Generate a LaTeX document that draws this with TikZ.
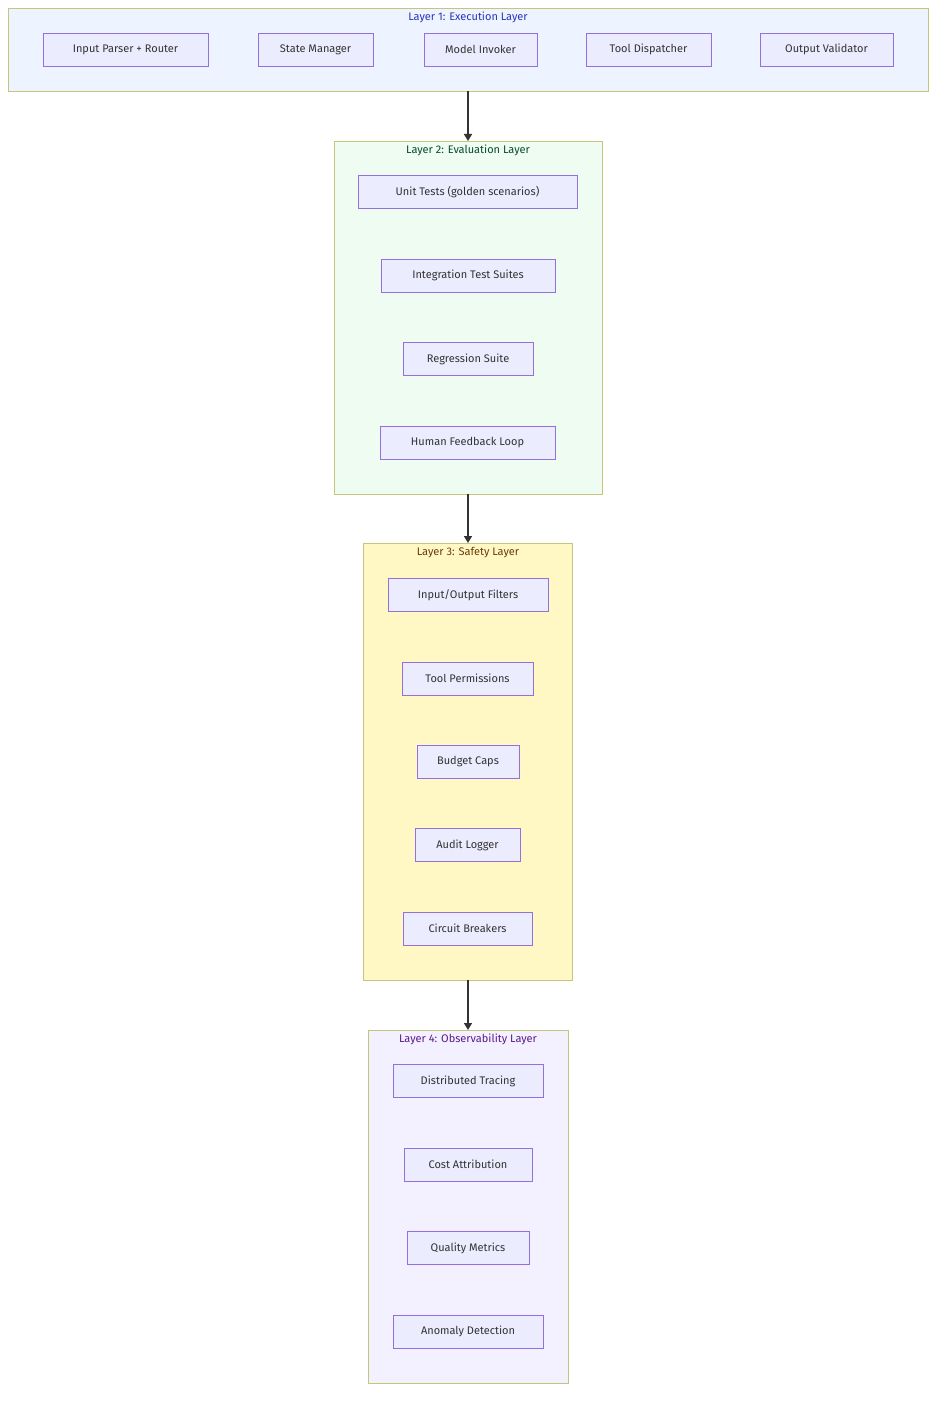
\documentclass[tikz,border=0pt]{standalone}
\usepackage{fontspec}
\setmainfont{Fira Sans}
\usetikzlibrary{arrows.meta}
\definecolor{nfill}{HTML}{ECECFF}
\definecolor{nline}{HTML}{9370DB}
\definecolor{gline}{HTML}{C6C67A}
\definecolor{f1}{HTML}{EEF4FF}
\definecolor{f2}{HTML}{EEFCF2}
\definecolor{f3}{HTML}{FFF8C4}
\definecolor{f4}{HTML}{F3F1FF}
\definecolor{t1}{HTML}{2536B8}
\definecolor{t2}{HTML}{0B4A2A}
\definecolor{t3}{HTML}{6B3A0C}
\definecolor{t4}{HTML}{5A1A8C}
\definecolor{ntext}{HTML}{333333}
\begin{document}
\begin{tikzpicture}[x=1pt,y=-1pt,
  nd/.style={draw=nline,fill=nfill,line width=0.8pt,minimum height=33pt,inner sep=0pt,text=ntext,font=\fontsize{11}{13}\selectfont},
  grp/.style={draw=gline,line width=0.8pt},
  ttl/.style={font=\fontsize{11}{13}\selectfont,anchor=center},
  arr/.style={draw=black!80,line width=1.6pt,-{Triangle[length=7pt,width=8pt]}}]
\useasboundingbox (0,0) rectangle (944,1402);
% groups
\draw[grp,fill=f1] (8,8) rectangle (928,91);
\draw[grp,fill=f2] (334,141) rectangle (602,494);
\draw[grp,fill=f3] (363,543) rectangle (572,980);
\draw[grp,fill=f4] (368,1030) rectangle (568,1383);
\node[ttl,text=t1] (g1) at (468,17) {Layer 1: Execution Layer};
\node[ttl,text=t2] (g2) at (468,150) {Layer 2: Evaluation Layer};
\node[ttl,text=t3] (g3) at (468,553) {Layer 3: Safety Layer};
\node[ttl,text=t4] (g4) at (468,1039) {Layer 4: Observability Layer};
\coordinate (b1) at (468,91); \coordinate (a2) at (468,141);
\coordinate (b2) at (468,494); \coordinate (a3) at (468,543);
\coordinate (b3) at (468,980); \coordinate (a4) at (468,1030);
% layer 1
\node[nd,minimum width=165pt] (ip) at (125.5,49.5) {Input Parser + Router};
\node[nd,minimum width=115pt] (sm) at (315.5,49.5) {State Manager};
\node[nd,minimum width=113pt] (mi) at (480.5,49.5) {Model Invoker};
\node[nd,minimum width=125pt] (td) at (648.5,49.5) {Tool Dispatcher};
\node[nd,minimum width=133pt] (ov) at (826.5,49.5) {Output Validator};
% layer 2
\node[nd,minimum width=219pt] (ut) at (467.5,192) {Unit Tests (golden scenarios)};
\node[nd,minimum width=174pt] (it) at (468,275.5) {Integration Test Suites};
\node[nd,minimum width=130pt] (rs) at (468,359) {Regression Suite};
\node[nd,minimum width=175pt] (hf) at (467.5,442.5) {Human Feedback Loop};
% layer 3
\node[nd,minimum width=160pt] (io) at (468,595) {Input/Output Filters};
\node[nd,minimum width=131pt] (tp) at (467.5,678.5) {Tool Permissions};
\node[nd,minimum width=102pt] (bc) at (468,762) {Budget Caps};
\node[nd,minimum width=105pt] (al) at (467.5,845) {Audit Logger};
\node[nd,minimum width=129pt] (cb) at (467.5,928.5) {Circuit Breakers};
% layer 4
\node[nd,minimum width=150pt] (dt) at (468,1081) {Distributed Tracing};
\node[nd,minimum width=128pt] (ca) at (468,1164.5) {Cost Attribution};
\node[nd,minimum width=122pt] (qm) at (468,1248) {Quality Metrics};
\node[nd,minimum width=150pt] (ad) at (468,1331.5) {Anomaly Detection};
% arrows
\draw[arr] (b1) -- (a2);
\draw[arr] (b2) -- (a3);
\draw[arr] (b3) -- (a4);
\end{tikzpicture}
\end{document}
